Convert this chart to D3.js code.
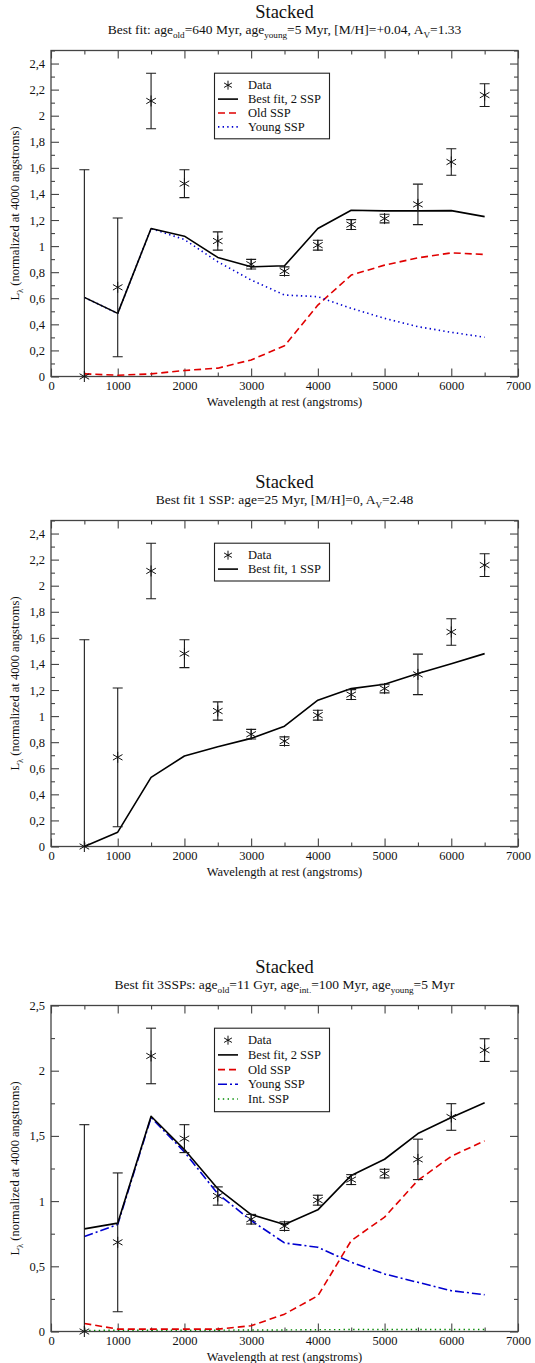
<!DOCTYPE html>
<html>
<head>
<meta charset="utf-8">
<script src="https://cdn.jsdelivr.net/npm/d3@7"></script>
<style>
	body { margin: 0; background: #fff; }
</style>
</head>
<body>
<div id="chart"></div>
<script>
(function () {
	'use strict';

	// wavelengths at rest (angstroms)
	var wavelength = [500, 1000, 1500, 2000, 2500, 3000, 3500, 4000, 4500, 5000, 5500, 6000, 6500];

	// stacked photometry, same in all three panels
	var dataFlux = [0.0, 0.684, 2.113, 1.479, 1.039, 0.861, 0.808, 1.007, 1.165, 1.211, 1.320, 1.645, 2.158];
	var dataErr  = [1.586, 0.532, 0.213, 0.107, 0.070, 0.037, 0.033, 0.038, 0.038, 0.033, 0.155, 0.102, 0.087];

	// panel 1 : 2 SSP fit
	var fit2Best  = [0.607, 0.484, 1.135, 1.076, 0.913, 0.841, 0.849, 1.135, 1.275, 1.270, 1.270, 1.272, 1.226];
	var fit2Old   = [0.020, 0.010, 0.020, 0.046, 0.064, 0.127, 0.235, 0.548, 0.778, 0.854, 0.910, 0.948, 0.936];
	var fit2Young = [0.607, 0.484, 1.135, 1.050, 0.880, 0.740, 0.625, 0.612, 0.523, 0.446, 0.382, 0.339, 0.301];

	// panel 2 : 1 SSP fit
	var fit1Best  = [0.000, 0.110, 0.530, 0.694, 0.765, 0.829, 0.923, 1.122, 1.211, 1.244, 1.326, 1.402, 1.479];

	// panel 3 : 3 SSP fit
	var fit3Best  = [0.787, 0.831, 1.651, 1.395, 1.095, 0.897, 0.821, 0.933, 1.197, 1.321, 1.518, 1.641, 1.754];
	var fit3Old   = [0.062, 0.018, 0.018, 0.018, 0.018, 0.044, 0.133, 0.274, 0.697, 0.877, 1.159, 1.344, 1.462];
	var fit3Young = [0.728, 0.821, 1.641, 1.377, 1.056, 0.851, 0.679, 0.646, 0.531, 0.441, 0.377, 0.313, 0.282];
	var fit3Int   = [0.008, 0.010, 0.010, 0.010, 0.010, 0.012, 0.012, 0.014, 0.015, 0.015, 0.015, 0.015, 0.015];

	// tick values
	var xMajor = [0, 1000, 2000, 3000, 4000, 5000, 6000, 7000];
	var xMinor = [500, 1500, 2500, 3500, 4500, 5500, 6500];
	var yMajorA = [0, 0.2, 0.4, 0.6, 0.8, 1, 1.2, 1.4, 1.6, 1.8, 2, 2.2, 2.4];
	var yMinorA = [0.1, 0.3, 0.5, 0.7, 0.9, 1.1, 1.3, 1.5, 1.7, 1.9, 2.1, 2.3, 2.5];
	var yMajorB = [0, 0.5, 1, 1.5, 2, 2.5];
	var yMinorB = [0.25, 0.75, 1.25, 1.75, 2.25];

	var width = 535, height = 1363;
	var left = 51, right = 518, plotH = 326;
	var serif = "Liberation Serif";

	var svg = d3.select("#chart").append("svg")
		.attr("width", width)
		.attr("height", height)
		.attr("font-family", serif);

	var styles = {
		best:  { stroke: "#000", dash: null, w: 1.6 },
		old:   { stroke: "#e00000", dash: "7,4", w: 1.6 },
		young: { stroke: "#0000d0", dash: "1.4,3.2", w: 1.6 },
		youngDD: { stroke: "#0000d0", dash: "9,3,2,3", w: 1.6 },
		inter: { stroke: "#008a00", dash: "1.4,3.4", w: 1.4 }
	};

	var fmt = function (d) { return String(+d.toFixed(2)).replace(".", ","); };

	var panels = [
		{
			top: 50.5,
			subtitle: [["Best fit: age", 0], ["old", 1], ["=640 Myr, age", 0], ["young", 1], ["=5 Myr, [M/H]=+0.04, A", 0], ["V", 1], ["=1.33", 0]],
			yMajor: yMajorA, yMinor: yMinorA,
			series: [
				{ values: fit2Old, style: styles.old },
				{ values: fit2Young, style: styles.young },
				{ values: fit2Best, style: styles.best }
			],
			legend: [
				{ label: "Data", type: "star" },
				{ label: "Best fit, 2 SSP", style: styles.best },
				{ label: "Old SSP", style: styles.old },
				{ label: "Young SSP", style: styles.young }
			],
			spacing: 13.9
		},
		{
			top: 520.5,
			subtitle: [["Best fit 1 SSP: age=25 Myr, [M/H]=0, A", 0], ["V", 1], ["=2.48", 0]],
			yMajor: yMajorA, yMinor: yMinorA,
			series: [
				{ values: fit1Best, style: styles.best }
			],
			legend: [
				{ label: "Data", type: "star" },
				{ label: "Best fit, 1 SSP", style: styles.best }
			],
			spacing: 13.9
		},
		{
			top: 1005.5,
			subtitle: [["Best fit 3SSPs: age", 0], ["old", 1], ["=11 Gyr, age", 0], ["int.", 1], ["=100 Myr, age", 0], ["young", 1], ["=5 Myr", 0]],
			yMajor: yMajorB, yMinor: yMinorB,
			series: [
				{ values: fit3Int, style: styles.inter },
				{ values: fit3Old, style: styles.old },
				{ values: fit3Young, style: styles.youngDD },
				{ values: fit3Best, style: styles.best }
			],
			legend: [
				{ label: "Data", type: "star" },
				{ label: "Best fit, 2 SSP", style: styles.best },
				{ label: "Old SSP", style: styles.old },
				{ label: "Young SSP", style: styles.youngDD },
				{ label: "Int. SSP", style: styles.inter }
			],
			spacing: 14.7
		}
	];

	panels.forEach(function (p, idx) { drawPanel(p, idx); });

	function star(sel, cx, cy, r) {
		var g = sel.append("g").attr("transform", "translate(" + cx + "," + cy + ")")
			.attr("stroke", "#111").attr("stroke-width", 1);
		g.append("line").attr("x1", 0).attr("y1", -r).attr("x2", 0).attr("y2", r);
		var a = r * 0.87, b = r * 0.5;
		g.append("line").attr("x1", -a).attr("y1", -b).attr("x2", a).attr("y2", b);
		g.append("line").attr("x1", -a).attr("y1", b).attr("x2", a).attr("y2", -b);
	}

	function subText(sel, parts, fs) {
		sel.attr("font-family", serif).attr("fill", "#111");
		parts.forEach(function (pt, i) {
			var prev = i > 0 ? parts[i - 1][1] : 0;
			var t = sel.append("tspan").text(pt[0]);
			if (pt[1]) {
				t.attr("font-size", fs * 0.68).attr("dy", fs * 0.3);
			} else {
				t.attr("font-size", fs);
				if (prev) t.attr("dy", -fs * 0.3);
			}
		});
	}

	function drawPanel(p, idx) {
		var top = p.top, bottom = top + plotH;
		var x = d3.scaleLinear().domain([0, 7000]).range([left, right]);
		var y = d3.scaleLinear().domain([0, 2.5]).range([bottom, top]);

		var g = svg.append("g");

		// titles
		g.append("text")
			.attr("x", (left + right) / 2).attr("y", top - 33)
			.attr("text-anchor", "middle").attr("font-size", 18.5)
			.attr("font-family", serif).attr("fill", "#111")
			.text("Stacked");
		subText(g.append("text")
			.attr("x", (left + right) / 2).attr("y", top - 16.5)
			.attr("text-anchor", "middle"), p.subtitle, 13.5);

		// axes, ticks inward on all sides
		var axisColor = "#444";
		function styleAxis(a) {
			a.attr("font-family", serif);
			a.select(".domain").remove();
			a.selectAll("line").attr("stroke", axisColor).attr("stroke-width", 1.1);
			a.selectAll("text").attr("font-family", serif).attr("font-size", 12.5).attr("fill", "#111");
		}

		g.append("g").attr("transform", "translate(0," + bottom + ")")
			.call(d3.axisBottom(x).tickValues(xMajor).tickSize(-8).tickSizeOuter(0).tickPadding(5).tickFormat(d3.format("d")))
			.call(styleAxis);
		g.append("g").attr("transform", "translate(0," + bottom + ")")
			.call(d3.axisBottom(x).tickValues(xMinor).tickSize(-4).tickSizeOuter(0).tickFormat(""))
			.call(styleAxis);
		g.append("g").attr("transform", "translate(0," + top + ")")
			.call(d3.axisTop(x).tickValues(xMajor).tickSize(-8).tickSizeOuter(0).tickFormat(""))
			.call(styleAxis);
		g.append("g").attr("transform", "translate(0," + top + ")")
			.call(d3.axisTop(x).tickValues(xMinor).tickSize(-4).tickSizeOuter(0).tickFormat(""))
			.call(styleAxis);

		g.append("g").attr("transform", "translate(" + left + ",0)")
			.call(d3.axisLeft(y).tickValues(p.yMajor).tickSize(-8).tickSizeOuter(0).tickPadding(6).tickFormat(fmt))
			.call(styleAxis);
		g.append("g").attr("transform", "translate(" + left + ",0)")
			.call(d3.axisLeft(y).tickValues(p.yMinor).tickSize(-4).tickSizeOuter(0).tickFormat(""))
			.call(styleAxis);
		g.append("g").attr("transform", "translate(" + right + ",0)")
			.call(d3.axisRight(y).tickValues(p.yMajor).tickSize(-8).tickSizeOuter(0).tickFormat(""))
			.call(styleAxis);
		g.append("g").attr("transform", "translate(" + right + ",0)")
			.call(d3.axisRight(y).tickValues(p.yMinor).tickSize(-4).tickSizeOuter(0).tickFormat(""))
			.call(styleAxis);

		// frame
		g.append("rect")
			.attr("x", left).attr("y", top)
			.attr("width", right - left).attr("height", plotH)
			.attr("fill", "none").attr("stroke", axisColor).attr("stroke-width", 1.3);

		// axis titles
		g.append("text")
			.attr("x", (left + right) / 2).attr("y", bottom + 29)
			.attr("text-anchor", "middle").attr("font-size", 12.5)
			.attr("font-family", serif).attr("fill", "#111")
			.text("Wavelength at rest (angstroms)");
		subText(g.append("text")
			.attr("transform", "translate(19," + (top + plotH / 2) + ") rotate(-90)")
			.attr("text-anchor", "middle"),
			[["L", 0], ["λ", 1], [" (normalized at 4000 angstroms)", 0]], 12.5);

		// clip for error bars
		var clipId = "clip" + idx;
		svg.append("clipPath").attr("id", clipId)
			.append("rect").attr("x", left).attr("y", top).attr("width", right - left).attr("height", plotH);

		// model curves
		var line = d3.line()
			.x(function (d, i) { return x(wavelength[i]); })
			.y(function (d) { return y(d); });

		p.series.forEach(function (s) {
			g.append("path")
				.datum(s.values)
				.attr("d", line)
				.attr("fill", "none")
				.attr("stroke", s.style.stroke)
				.attr("stroke-width", s.style.w)
				.attr("stroke-dasharray", s.style.dash)
				.attr("stroke-linejoin", "round");
		});

		// data with error bars
		var eb = g.append("g").attr("clip-path", "url(#" + clipId + ")")
			.attr("stroke", "#1a1a1a").attr("stroke-width", 1.1);
		wavelength.forEach(function (w, i) {
			var cx = x(w), y1 = y(dataFlux[i] + dataErr[i]), y0 = y(dataFlux[i] - dataErr[i]);
			eb.append("line").attr("x1", cx).attr("x2", cx).attr("y1", y1).attr("y2", y0);
			eb.append("line").attr("x1", cx - 5).attr("x2", cx + 5).attr("y1", y1).attr("y2", y1);
			eb.append("line").attr("x1", cx - 5).attr("x2", cx + 5).attr("y1", y0).attr("y2", y0);
		});
		wavelength.forEach(function (w, i) {
			star(g, x(w), y(dataFlux[i]), 5.5);
		});

		// legend
		var lx = 214.5, ly = top + 22.7;
		var lh = 10 + p.legend.length * p.spacing;
		var lg = g.append("g");
		lg.append("rect")
			.attr("x", lx).attr("y", ly).attr("width", 115).attr("height", lh)
			.attr("fill", "#fff").attr("stroke", "#222").attr("stroke-width", 1.1);
		p.legend.forEach(function (e, i) {
			var ey = ly + 12 + i * p.spacing;
			if (e.type === "star") {
				star(lg, 228, ey, 4.5);
			} else {
				lg.append("line")
					.attr("x1", 218).attr("x2", 238).attr("y1", ey).attr("y2", ey)
					.attr("stroke", e.style.stroke)
					.attr("stroke-width", e.style.w)
					.attr("stroke-dasharray", e.style.dash);
			}
			lg.append("text")
				.attr("x", 248).attr("y", ey + 4)
				.attr("font-size", 12.5)
				.attr("font-family", serif).attr("fill", "#111")
				.text(e.label);
		});
	}
}());
</script>
</body>
</html>
